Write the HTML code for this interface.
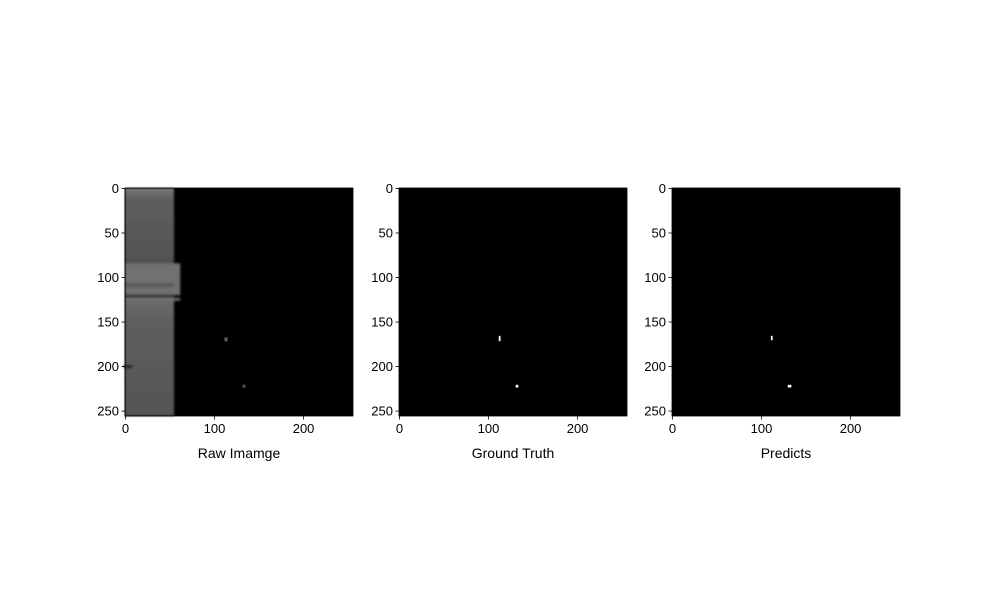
<!DOCTYPE html>
<html><head><meta charset="utf-8">
<style>
body{margin:0;background:#fff;}
svg text{font-family:"Liberation Sans","DejaVu Sans",sans-serif;}
</style></head>
<body>
<svg id="fig" width="1000" height="600" xmlns="http://www.w3.org/2000/svg">
<defs>
<linearGradient id="bandg" x1="0" y1="0" x2="0" y2="1">
<stop offset="0" stop-color="#7a7a7a"/>
<stop offset="0.05" stop-color="#5e5e5e"/>
<stop offset="0.3" stop-color="#555"/>
<stop offset="0.33" stop-color="#4a4a4a"/>
<stop offset="0.36" stop-color="#777"/>
<stop offset="0.44" stop-color="#6e6e6e"/>
<stop offset="0.47" stop-color="#3c3c3c"/>
<stop offset="0.5" stop-color="#6a6a6a"/>
<stop offset="0.6" stop-color="#5e5e5e"/>
<stop offset="1" stop-color="#555"/>
</linearGradient>
<filter id="blur"><feGaussianBlur stdDeviation="1"/></filter>
</defs>
</svg>
<script>
const panelTitles = ["Raw Imamge","Ground Truth","Predicts"];
const xTicks = [0,100,200];
const yTicks = [0,50,100,150,200,250];
const gtSpots = [[112,166,2,6],[131,221,3,3]];
const predSpots = [[111,166,2,5],[130,221,4,3]];
const rawSpots = [[112,168,3,4],[132,221,3,3]];
const panelLefts = [125,399,672];
const top0 = 188, size = 228, N = 256;
const svg = document.getElementById('fig');
const NS = "http://www.w3.org/2000/svg";
function mk(tag, attrs, parent){const e=document.createElementNS(NS,tag);for(const k in attrs)e.setAttribute(k,attrs[k]);(parent||svg).appendChild(e);return e;}
const s = size/N;
panelTitles.forEach((t,i)=>{
  const L = panelLefts[i];
  const g = mk('g',{});
  
  
  const xs = v=>L+(v+0.5)*s, ys = v=>top0+(v+0.5)*s;
  const bg = mk('rect',{x:L,y:top0,width:size,height:size,fill:'#000'},g);
  
  
  if(i===0){
    const rg = mk('g',{filter:'url(#blur)'},g);
    
    
    const b = mk('rect',{x:L,y:top0,width:55*s,height:size,fill:'url(#bandg)'},rg);
    
    
    const b2 = mk('rect',{x:L,y:ys(84),width:62*s,height:36*s,fill:'#717171'},rg);
    
    
    const b3 = mk('rect',{x:L,y:ys(106),width:55*s,height:5*s,fill:'#5c5c5c'},rg);
    
    
    const b4 = mk('rect',{x:L,y:ys(119),width:55*s,height:4*s,fill:'#3a3a3a'},rg);
    
    
    const b5 = mk('rect',{x:L,y:ys(123),width:62*s,height:3*s,fill:'#777'},rg);
    
    
    const b6 = mk('ellipse',{cx:xs(3),cy:ys(200),rx:5,ry:2,fill:'#2a2a2a'},rg);
    
    
  }
  const spots = i===0?rawSpots:(i===1?gtSpots:predSpots);
  spots.forEach(p=>{
    const r = mk('rect',{x:xs(p[0])-s/2,y:ys(p[1])-s/2,width:p[2]*s,height:p[3]*s,fill:i===0?'#999':'#fff'},g);
    if(i===0) r.setAttribute('filter','url(#blur)');
    
    
  });
  const fr = mk('rect',{x:L,y:top0,width:size,height:size,fill:'none',stroke:'#000','stroke-width':0.8},g);
  
  
  xTicks.forEach(v=>{
    const x=xs(v);
    const tl = mk('line',{x1:x,x2:x,y1:top0+size,y2:top0+size+3.5,stroke:'#000','stroke-width':0.8},g);
    
    
    const tx = mk('text',{x:x,y:top0+size+17,'font-size':13,'text-anchor':'middle'},g);
    tx.textContent=v;
    
    
  });
  yTicks.forEach(v=>{
    const y=ys(v);
    const tl = mk('line',{x1:L-3.5,x2:L,y1:y,y2:y,stroke:'#000','stroke-width':0.8},g);
    
    
    const tx = mk('text',{x:L-6,y:y+4.5,'font-size':13,'text-anchor':'end'},g);
    tx.textContent=v;
    
    
  });
  const tt = mk('text',{x:L+size/2,y:458,'font-size':14,'text-anchor':'middle'},g);
  tt.textContent=t;
  
  
});
</script>
</body></html>
